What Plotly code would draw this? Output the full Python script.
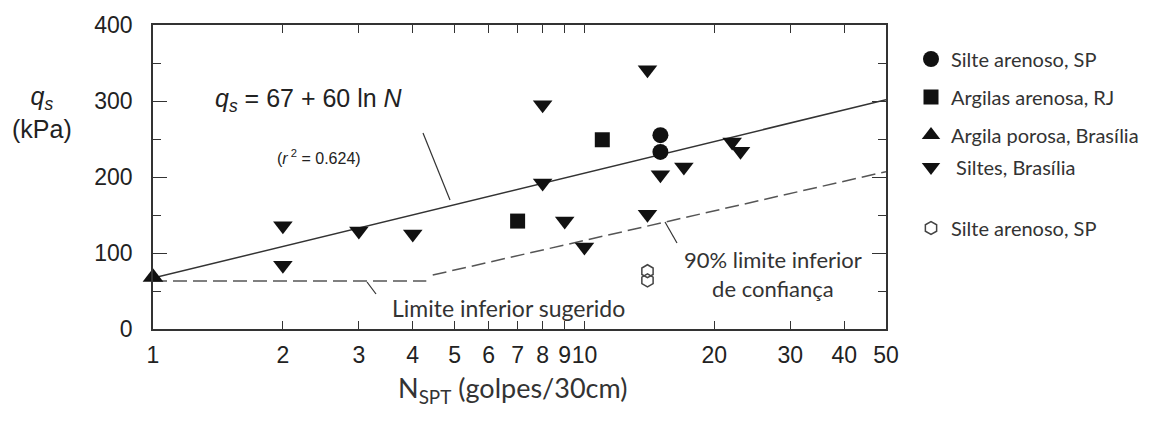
import plotly.graph_objects as go

# ---------------- data ----------------
silte_sp_N = [15, 15]
silte_sp_q = [255, 233]
argilas_rj_N = [11, 7]
argilas_rj_q = [249, 142]
argila_bsb_N = [1]
argila_bsb_q = [68]
siltes_bsb_N = [2, 2, 3, 4, 8, 8, 9, 10, 14, 14, 15, 17, 22, 23]
siltes_bsb_q = [136, 84, 129, 125, 295, 192, 142, 108, 341, 151, 203, 213, 246, 234]
silte_sp_open_N = [14, 14]
silte_sp_open_q = [76, 64]

# lines: q_s = 67 + 60 ln N (straight on log-x), suggested lower limit, 90% lower confidence
reg_N = [1, 50]
reg_q = [67, 301.7]
lim_N = [1, 4.3]
lim_q = [63, 63]
conf_N = [4.45, 50]
conf_q = [71, 207]

x_tickvals = [1, 2, 3, 4, 5, 6, 7, 8, 9, 10, 20, 30, 40, 50]
x_ticktext = ["1", "2", "3", "4", "5", "6", "7", "8", "9", "10", "20", "30", "40", "50"]

# ---------------- figure ----------------
L, R, T, B = 153, 886, 25, 329
W, H = 1158, 424


def px(x):
    return (x - L) / (R - L)


def py(y):
    return (B - y) / (B - T)


MK = "#111111"
fig = go.Figure()

fig.add_trace(go.Scatter(x=reg_N, y=reg_q, mode="lines", line=dict(color="#333", width=1.5),
                         showlegend=False, hoverinfo="skip"))
fig.add_trace(go.Scatter(x=lim_N, y=lim_q, mode="lines", line=dict(color="#555", width=1.5, dash="14px,6px"),
                         showlegend=False, hoverinfo="skip"))
fig.add_trace(go.Scatter(x=conf_N, y=conf_q, mode="lines", line=dict(color="#555", width=1.5, dash="14px,6px"),
                         showlegend=False, hoverinfo="skip"))

fig.add_trace(go.Scatter(x=silte_sp_N, y=silte_sp_q, mode="markers", name="Silte arenoso, SP",
                         marker=dict(symbol="circle", size=16, color=MK), legend="legend"))
fig.add_trace(go.Scatter(x=argilas_rj_N, y=argilas_rj_q, mode="markers", name="Argilas arenosa, RJ",
                         marker=dict(symbol="square", size=15, color=MK), legend="legend2"))
fig.add_trace(go.Scatter(x=argila_bsb_N, y=argila_bsb_q, mode="markers", name="Argila porosa, Brasília",
                         marker=dict(symbol="triangle-up", size=18, color=MK), legend="legend3",
                         cliponaxis=False))
fig.add_trace(go.Scatter(x=siltes_bsb_N, y=siltes_bsb_q, mode="markers", name=" Siltes, Brasília",
                         marker=dict(symbol="triangle-down", size=17, color=MK), legend="legend4"))
fig.add_trace(go.Scatter(x=silte_sp_open_N, y=silte_sp_open_q, mode="markers", name="Silte arenoso, SP",
                         marker=dict(symbol="hexagon-open", size=13, color="#444", line=dict(width=1.5)),
                         legend="legend5"))

leg_font = dict(family="Lato", size=20, color="#333")


def leg(ypix):
    return dict(x=px(911), y=py(ypix), xanchor="left", yanchor="middle",
                bgcolor="rgba(0,0,0,0)", font=leg_font, borderwidth=0)


axis_font = dict(family="Liberation Sans, Arial", size=23, color="#222")

fig.update_layout(
    width=W, height=H,
    margin=dict(l=L, r=W - R, t=T, b=H - B),
    plot_bgcolor="white", paper_bgcolor="white",
    legend=leg(59), legend2=leg(97), legend3=leg(135), legend4=leg(167), legend5=leg(228),
    xaxis=dict(type="log", range=[0, 1.69897], tickvals=x_tickvals, ticktext=x_ticktext,
               tickangle=0,
               ticks="inside", ticklen=8, tickwidth=1.2, tickcolor="#333",
               showline=True, linecolor="#333", linewidth=1.5, mirror="ticks",
               showgrid=False, zeroline=False, tickfont=axis_font, ticklabelstandoff=5),
    yaxis=dict(range=[0, 400], tickvals=[0, 100, 200, 300, 400],
               ticks="inside", ticklen=14, tickwidth=1.2, tickcolor="#333",
               minor=dict(tickvals=[50, 150, 250, 350], ticks="inside", ticklen=8, tickcolor="#333"),
               showline=True, linecolor="#333", linewidth=1.5, mirror="ticks",
               showgrid=False, zeroline=False, tickfont=axis_font, ticklabelstandoff=14),
    showlegend=True,
)

ann_common = dict(xref="paper", yref="paper", showarrow=False)
fig.add_annotation(text="<i>q</i><sub><i>s</i></sub> = 67 + 60 ln <i>N</i>", x=px(213), y=py(100),
                   xanchor="left", yanchor="middle",
                   font=dict(family="Liberation Sans, Arial", size=25, color="#222"), **ann_common)
fig.add_annotation(text="(<i>r</i><sup> 2</sup> = 0.624)", x=px(319), y=py(157),
                   xanchor="center", yanchor="middle",
                   font=dict(family="Liberation Sans, Arial", size=16, color="#222"), **ann_common)
fig.add_annotation(text="Limite inferior sugerido", x=px(390), y=py(308),
                   xanchor="left", yanchor="middle",
                   font=dict(family="Lato", size=23, color="#333"), **ann_common)
fig.add_annotation(text="90% limite inferior<br>de confiança", x=px(773), y=py(274),
                   xanchor="center", yanchor="middle", align="center",
                   font=dict(family="Lato", size=22, color="#333"), **ann_common)
fig.add_annotation(text="<i>q</i><sub><i>s</i></sub><br>(kPa)", x=px(42), y=py(112),
                   xanchor="center", yanchor="middle", align="center",
                   font=dict(family="Liberation Sans, Arial", size=25, color="#222"), **ann_common)
fig.add_annotation(text="N<sub>SPT</sub> (golpes/30cm)", x=px(512), y=py(389),
                   xanchor="center", yanchor="middle",
                   font=dict(family="Lato", size=27, color="#333"), **ann_common)

for (x0, y0, x1, y1) in [(423, 133, 450, 200), (367, 282, 376, 294), (665, 222, 677, 243)]:
    fig.add_shape(type="line", xref="paper", yref="paper", x0=px(x0), y0=py(y0), x1=px(x1), y1=py(y1),
                  line=dict(color="#333", width=1.2))

fig.write_html("out.html", config={"displayModeBar": False},
               post_script="document.body.style.margin='0';document.body.style.overflow='hidden';")
